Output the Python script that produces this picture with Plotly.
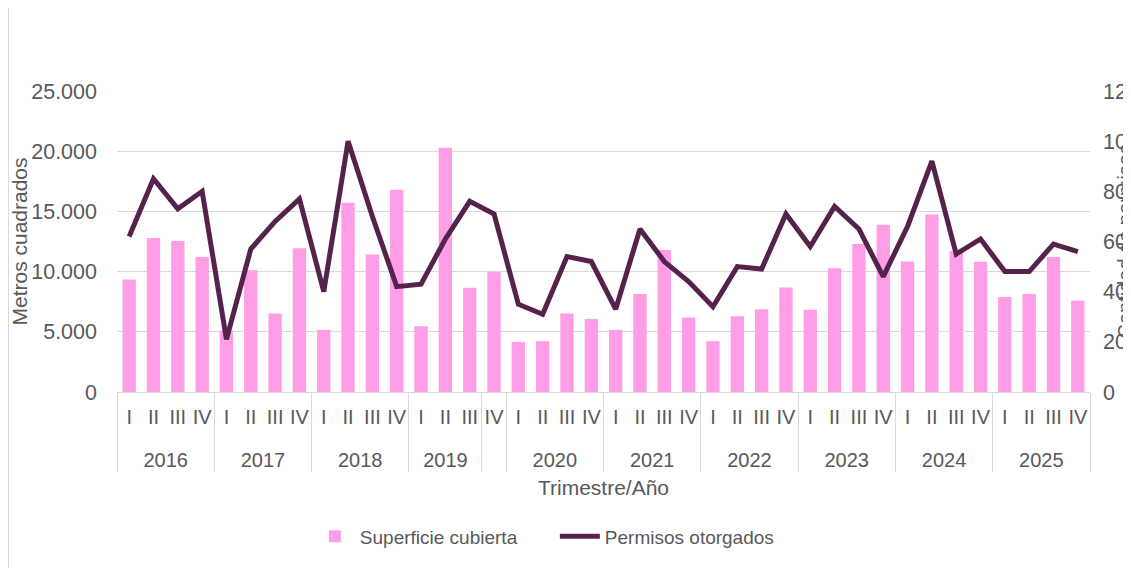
import plotly.graph_objects as go

# datos por trimestre (2016-I a 2025-IV)
years = ["2016", "2017", "2018", "2019", "2020", "2021", "2022", "2023", "2024", "2025"]
quarters = ["I", "II", "III", "IV"]

superficie = [9350, 12790, 12540, 11220,
              5100, 10120, 6530, 11940,
              5160, 15720, 11410, 16790,
              5460, 20290, 8660, 9980,
              4160, 4220, 6510, 6070,
              5160, 8130, 11800, 6180,
              4220, 6290, 6870, 8680,
              6840, 10280, 12300, 13900,
              10840, 14750, 11690, 10810,
              7890, 8130, 11220, 7580]

permisos = [62, 85, 73, 80,
            21, 57, 68, 77,
            40, 100, 70, 42,
            43, 61, 76, 71,
            35, 31, 54, 52,
            33, 65, 52, 44,
            34, 50, 49, 71,
            58, 74, 65, 46,
            66, 92, 55, 61,
            48, 48, 59, 56]

# el <br> baja la fila de años para separarla de los trimestres
year_labels = ["<br>" + y for y in years for _ in quarters]
year_labels[15] = " "  # en el original 2019-IV queda en un grupo sin año
quarter_labels = quarters * len(years)
x = [year_labels, quarter_labels]

txt = "#595959"
grid = "#d9d9d9"
font_family = "Liberation Sans, Arial, sans-serif"
tick_size = 21.5

fig = go.Figure()

fig.add_trace(go.Bar(
    x=x,
    y=superficie,
    name="Superficie cubierta",
    marker=dict(color="#FF9EE6", line=dict(width=0)),
))

fig.add_trace(go.Scatter(
    x=x,
    y=permisos,
    name="Permisos otorgados",
    mode="lines",
    line=dict(color="#55224B", width=5),
    yaxis="y2",
))

# la página tiene 8px de margen del body, se descuentan aquí
fig.update_layout(
    width=1123,
    height=560,
    margin=dict(l=109, r=41, t=83, b=174),
    paper_bgcolor="white",
    plot_bgcolor="white",
    separators=",.",
    bargap=0.45,
    font=dict(family=font_family, size=20, color=txt),
    xaxis=dict(
        type="multicategory",
        automargin=False,
        tickangle=0,
        showgrid=False,
        showline=True,
        linecolor=grid,
        linewidth=1,
        ticks="",
        ticklabelstandoff=7,
        showdividers=True,
        dividercolor=grid,
        dividerwidth=1,
        tickfont=dict(size=20, color=txt),
        title=dict(text="Trimestre/Año", font=dict(size=21, color=txt), standoff=10),
    ),
    yaxis=dict(
        automargin=False,
        range=[0, 25000],
        dtick=5000,
        tickformat=",d",
        showgrid=True,
        gridcolor=grid,
        gridwidth=1,
        zeroline=False,
        showline=False,
        ticks="",
        ticklabelstandoff=19,
        tickfont=dict(size=tick_size, color=txt),
        title=dict(text="Metros cuadrados", font=dict(size=21, color=txt), standoff=0),
    ),
    yaxis2=dict(
        overlaying="y",
        side="right",
        range=[0, 120],
        dtick=20,
        showgrid=False,
        zeroline=False,
        showline=False,
        ticks="",
        ticklabelstandoff=12,
        tickfont=dict(size=tick_size, color=txt),
        automargin=False,
    ),
    legend=dict(
        orientation="h",
        x=0.45,
        xanchor="center",
        y=-0.48,
        yanchor="middle",
        font=dict(size=19, color=txt),
        itemwidth=40,
        entrywidth=190,
    ),
    showlegend=True,
)

# titulo del eje derecho, pegado al borde como en el original
fig.add_annotation(
    text="Cantidad de permisos",
    textangle=-90,
    xref="paper", yref="paper",
    x=1.035, y=0.5,
    xanchor="center", yanchor="middle",
    showarrow=False,
    font=dict(size=20, color=txt),
)

# borde del área del gráfico
fig.add_shape(
    type="rect",
    xref="paper", yref="paper",
    x0=-0.1115, x1=1.3, y0=-1.0, y1=1.5,
    line=dict(color=grid, width=1),
    layer="below",
)

fig.write_html("out.html")
